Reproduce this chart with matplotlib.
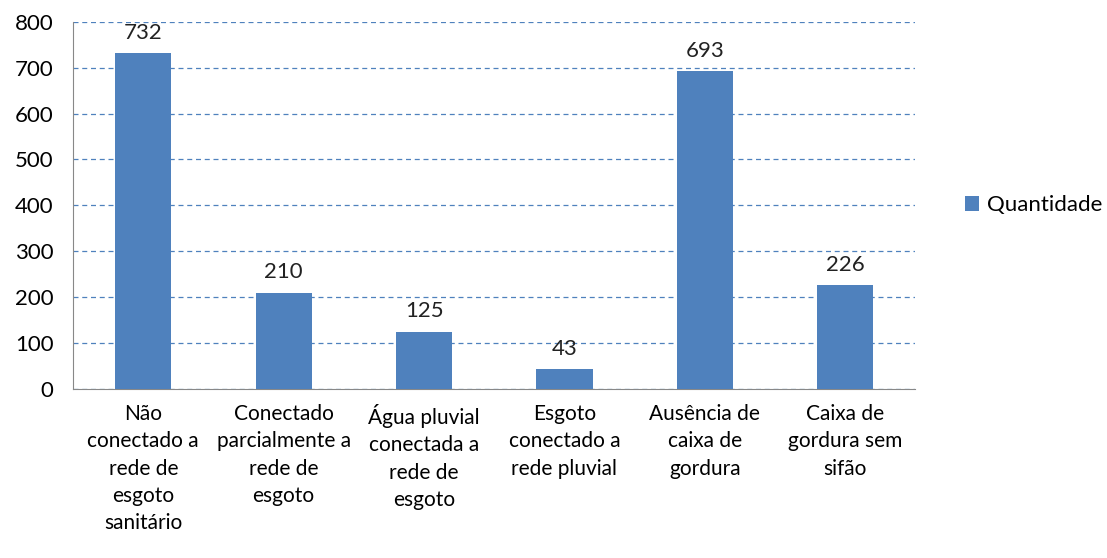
import numpy as np
import matplotlib.pyplot as plt

plt.rcParams['font.family'] = ['Lato', 'DejaVu Sans']

categories = ['Não\nconectado a\nrede de\nesgoto\nsanitário',
              'Conectado\nparcialmente a\nrede de\nesgoto',
              'Água pluvial\nconectada a\nrede de\nesgoto',
              'Esgoto\nconectado a\nrede pluvial',
              'Ausência de\ncaixa de\ngordura',
              'Caixa de\ngordura sem\nsifão']
quantidade = [732, 210, 125, 43, 693, 226]

fig = plt.figure(figsize=(11.07, 5.58), dpi=100)
ax = fig.add_axes([0.066, 0.303, 0.761, 0.658])

x = np.arange(len(categories))
bars = ax.bar(x, quantidade, width=0.4, color='#4F81BD', label='Quantidade', zorder=3)
for b, v in zip(bars, quantidade):
    ax.text(b.get_x() + b.get_width() / 2, v + 22, str(v), ha='center', va='bottom',
            fontsize=16, color='#222222')

ax.set_xlim(-0.5, len(categories) - 0.5)
ax.set_ylim(0, 800)
ax.set_yticks(range(0, 801, 100))
ax.set_xticks(x)
ax.set_xticklabels(categories, fontsize=15, linespacing=1.45)
ax.tick_params(axis='y', labelsize=16, length=0, pad=14)
ax.tick_params(axis='x', length=0, pad=11)
ax.yaxis.grid(True, linestyle=(0, (4, 3)), color='#4F81BD', linewidth=0.9, zorder=0)
for s in ['top', 'right']:
    ax.spines[s].set_visible(False)
for s in ['left', 'bottom']:
    ax.spines[s].set_color('#888888')

ax.legend(loc='center left', bbox_to_anchor=(1.035, 0.5), frameon=False, fontsize=16,
          handlelength=0.65, handleheight=0.65, handletextpad=0.35)

fig.savefig('out.png', dpi=100)
